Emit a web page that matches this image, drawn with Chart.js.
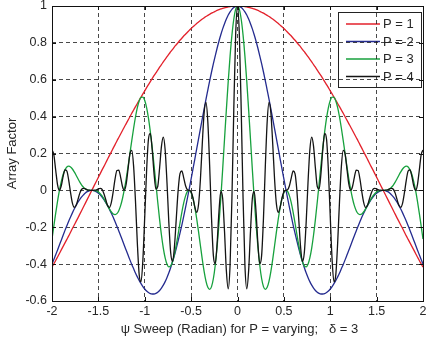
<!DOCTYPE html>
<html>
<head>
<meta charset="utf-8">
<script src="https://cdn.jsdelivr.net/npm/chart.js@4.4.1/dist/chart.umd.min.js"></script>
<style>
html,body{margin:0;padding:0;background:#fff;}
#wrap{width:426px;height:340px;}
</style>
</head>
<body>
<div id="wrap"><canvas id="c" width="426" height="340"></canvas></div>
<script>
// psi sweep (radian)
const psi = [
-2,-1.98,-1.96,-1.94,-1.92,-1.9,-1.88,-1.86,-1.84,-1.82,
-1.8,-1.78,-1.76,-1.74,-1.72,-1.7,-1.68,-1.66,-1.64,-1.62,
-1.6,-1.58,-1.56,-1.54,-1.52,-1.5,-1.48,-1.46,-1.44,-1.42,
-1.4,-1.38,-1.36,-1.34,-1.32,-1.3,-1.28,-1.26,-1.24,-1.22,
-1.2,-1.18,-1.16,-1.14,-1.12,-1.1,-1.08,-1.06,-1.04,-1.02,
-1,-0.98,-0.96,-0.94,-0.92,-0.9,-0.88,-0.86,-0.84,-0.82,
-0.8,-0.78,-0.76,-0.74,-0.72,-0.7,-0.68,-0.66,-0.64,-0.62,
-0.6,-0.58,-0.56,-0.54,-0.52,-0.5,-0.48,-0.46,-0.44,-0.42,
-0.4,-0.38,-0.36,-0.34,-0.32,-0.3,-0.28,-0.26,-0.24,-0.22,
-0.2,-0.18,-0.16,-0.14,-0.12,-0.1,-0.08,-0.06,-0.04,-0.02,
0,
0.02,0.04,0.06,0.08,0.1,0.12,0.14,0.16,0.18,0.2,
0.22,0.24,0.26,0.28,0.3,0.32,0.34,0.36,0.38,0.4,
0.42,0.44,0.46,0.48,0.5,0.52,0.54,0.56,0.58,0.6,
0.62,0.64,0.66,0.68,0.7,0.72,0.74,0.76,0.78,0.8,
0.82,0.84,0.86,0.88,0.9,0.92,0.94,0.96,0.98,1,
1.02,1.04,1.06,1.08,1.1,1.12,1.14,1.16,1.18,1.2,
1.22,1.24,1.26,1.28,1.3,1.32,1.34,1.36,1.38,1.4,
1.42,1.44,1.46,1.48,1.5,1.52,1.54,1.56,1.58,1.6,
1.62,1.64,1.66,1.68,1.7,1.72,1.74,1.76,1.78,1.8,
1.82,1.84,1.86,1.88,1.9,1.92,1.94,1.96,1.98,2
];

const afP1 = [
-.416,-.398,-.38,-.361,-.342,-.323,-.304,-.285,-.266,-.247,
-.227,-.207,-.188,-.168,-.149,-.129,-.109,-.089,-.069,-.049,
-.029,-.009,.011,.031,.051,.071,.091,.111,.13,.15,
.17,.19,.209,.229,.248,.268,.287,.306,.325,.344,
.362,.381,.399,.418,.436,.454,.471,.489,.506,.523,
.54,.557,.574,.59,.606,.622,.637,.652,.668,.682,
.697,.711,.725,.739,.752,.765,.778,.79,.802,.814,
.825,.837,.847,.858,.868,.878,.887,.896,.905,.913,
.921,.929,.936,.943,.949,.955,.961,.966,.971,.976,
.98,.984,.987,.99,.993,.995,.997,.998,.999,1,
1,
1,.999,.998,.997,.995,.993,.99,.987,.984,.98,
.976,.971,.966,.961,.955,.949,.943,.936,.929,.921,
.913,.905,.896,.887,.878,.868,.858,.847,.837,.825,
.814,.802,.79,.778,.765,.752,.739,.725,.711,.697,
.682,.668,.652,.637,.622,.606,.59,.574,.557,.54,
.523,.506,.489,.471,.454,.436,.418,.399,.381,.362,
.344,.325,.306,.287,.268,.248,.229,.209,.19,.17,
.15,.13,.111,.091,.071,.051,.031,.011,-.009,-.029,
-.049,-.069,-.089,-.109,-.129,-.149,-.168,-.188,-.207,-.227,
-.247,-.266,-.285,-.304,-.323,-.342,-.361,-.38,-.398,-.416
];

const afP2 = [
-.4,-.375,-.349,-.323,-.296,-.27,-.243,-.217,-.192,-.167,
-.144,-.122,-.101,-.082,-.064,-.049,-.035,-.024,-.014,-.007,
-.003,0,0,-.003,-.008,-.015,-.024,-.036,-.05,-.066,
-.083,-.103,-.124,-.146,-.17,-.194,-.22,-.246,-.272,-.299,
-.325,-.351,-.377,-.402,-.425,-.448,-.469,-.489,-.506,-.522,
-.535,-.546,-.554,-.56,-.562,-.562,-.559,-.553,-.543,-.53,
-.514,-.495,-.472,-.447,-.418,-.386,-.352,-.314,-.274,-.232,
-.188,-.141,-.092,-.042,.009,.062,.116,.17,.225,.279,
.334,.388,.441,.494,.544,.594,.642,.687,.73,.771,
.809,.844,.876,.904,.929,.951,.968,.982,.992,.998,
1,
.998,.992,.982,.968,.951,.929,.904,.876,.844,.809,
.771,.73,.687,.642,.594,.544,.494,.441,.388,.334,
.279,.225,.17,.116,.062,.009,-.042,-.092,-.141,-.188,
-.232,-.274,-.314,-.352,-.386,-.418,-.447,-.472,-.495,-.514,
-.53,-.543,-.553,-.559,-.562,-.562,-.56,-.554,-.546,-.535,
-.522,-.506,-.489,-.469,-.448,-.425,-.402,-.377,-.351,-.325,
-.299,-.272,-.246,-.22,-.194,-.17,-.146,-.124,-.103,-.083,
-.066,-.05,-.036,-.024,-.015,-.008,-.003,0,0,-.003,
-.007,-.014,-.024,-.035,-.049,-.064,-.082,-.101,-.122,-.144,
-.167,-.192,-.217,-.243,-.27,-.296,-.323,-.349,-.375,-.4
];

const afP3 = [
-.264,-.193,-.123,-.058,0,.048,.086,.111,.127,.131,
.127,.116,.1,.082,.063,.045,.029,.017,.008,.003,
.001,0,0,-.001,-.003,-.009,-.018,-.03,-.046,-.064,
-.083,-.102,-.117,-.128,-.131,-.126,-.11,-.083,-.044,.005,
.063,.129,.199,.27,.337,.398,.449,.485,.505,.506,
.487,.449,.392,.319,.233,.137,.037,-.063,-.157,-.242,
-.313,-.366,-.401,-.415,-.41,-.386,-.347,-.296,-.238,-.177,
-.119,-.068,-.03,-.006,0,-.013,-.044,-.092,-.154,-.224,
-.299,-.373,-.439,-.492,-.526,-.537,-.522,-.478,-.406,-.307,
-.184,-.042,.114,.277,.438,.591,.728,.842,.928,.982,
1,
.982,.928,.842,.728,.591,.438,.277,.114,-.042,-.184,
-.307,-.406,-.478,-.522,-.537,-.526,-.492,-.439,-.373,-.299,
-.224,-.154,-.092,-.044,-.013,0,-.006,-.03,-.068,-.119,
-.177,-.238,-.296,-.347,-.386,-.41,-.415,-.401,-.366,-.313,
-.242,-.157,-.063,.037,.137,.233,.319,.392,.449,.487,
.506,.505,.485,.449,.398,.337,.27,.199,.129,.063,
.005,-.044,-.083,-.11,-.126,-.131,-.128,-.117,-.102,-.083,
-.064,-.046,-.03,-.018,-.009,-.003,-.001,0,0,.001,
.003,.008,.017,.029,.045,.063,.082,.1,.116,.127,
.131,.127,.111,.086,.048,0,-.058,-.123,-.193,-.264
];

const afP4 = [
.219,.193,.109,.03,0,.025,.076,.111,.105,.056,
-.012,-.069,-.092,-.081,-.049,-.015,.006,.011,.008,.003,
.001,0,0,.001,.003,.008,.011,.005,-.018,-.051,
-.083,-.092,-.065,-.007,.062,.108,.11,.071,.021,0,
.035,.116,.198,.217,.13,-.058,-.284,-.457,-.496,-.376,
-.142,.108,.277,.309,.223,.092,.007,.021,.121,.239,
.289,.219,.04,-.177,-.34,-.386,-.306,-.153,0,.091,
.105,.068,.025,.003,0,-.008,-.041,-.091,-.119,-.076,
.058,.25,.42,.477,.372,.131,-.151,-.354,-.398,-.289,
-.117,-.006,-.044,-.222,-.436,-.534,-.405,-.041,.438,.842,
1,
.842,.438,-.041,-.405,-.534,-.436,-.222,-.044,-.006,-.117,
-.289,-.398,-.354,-.151,.131,.372,.477,.42,.25,.058,
-.076,-.119,-.091,-.041,-.008,0,.003,.025,.068,.105,
.091,0,-.153,-.306,-.386,-.34,-.177,.04,.219,.289,
.239,.121,.021,.007,.092,.223,.309,.277,.108,-.142,
-.376,-.496,-.457,-.284,-.058,.13,.217,.198,.116,.035,
0,.021,.071,.11,.108,.062,-.007,-.065,-.092,-.083,
-.051,-.018,.005,.011,.008,.003,.001,0,0,.001,
.003,.008,.011,.006,-.015,-.049,-.081,-.092,-.069,-.012,
.056,.105,.111,.076,.025,0,.03,.109,.193,.219
];

const seriesNames = ['P = 1','P = 2','P = 3','P = 4'];
const seriesColors = ['#e3212b','#242b8f','#17a13d','#141414'];
const seriesValues = [afP1, afP2, afP3, afP4];
const xTicks = [-2,-1.5,-1,-0.5,0,0.5,1,1.5,2];
const yTicks = [-0.6,-0.4,-0.2,0,0.2,0.4,0.6,0.8,1];
const xTitle = 'ψ Sweep (Radian) for P = varying;   δ = 3';
const yTitle = 'Array Factor';

const FONT = '"Liberation Sans", Arial, Helvetica, sans-serif';
const TXT = '#262626';

const frame = {
  id: 'frame',
  beforeDraw(chart) {
    const ctx = chart.ctx;
    ctx.save();
    ctx.fillStyle = '#fff';
    ctx.fillRect(0, 0, chart.width, chart.height);
    // legend box (drawn under the grid, like the reference)
    const lx = 338.5, ly = 12.5, lw = 83, lh = 75;
    ctx.fillStyle = '#fff';
    ctx.fillRect(lx, ly, lw, lh);
    ctx.strokeStyle = '#222';
    ctx.lineWidth = 1;
    ctx.strokeRect(lx, ly, lw, lh);
    const rows = [24, 41.5, 59, 76.5];
    ctx.font = '13px ' + FONT;
    ctx.textBaseline = 'middle';
    ctx.textAlign = 'left';
    seriesNames.forEach((name, i) => {
      ctx.strokeStyle = seriesColors[i];
      ctx.lineWidth = 1.3;
      ctx.beginPath();
      ctx.moveTo(346, rows[i]);
      ctx.lineTo(380, rows[i]);
      ctx.stroke();
      ctx.fillStyle = TXT;
      ctx.fillText(name, 383, rows[i] + 0.5);
    });
    ctx.restore();
  },
  afterDraw(chart) {
    const ctx = chart.ctx;
    const a = chart.chartArea;
    const xs = chart.scales.x, ys = chart.scales.y;
    ctx.save();
    ctx.strokeStyle = '#111';
    ctx.lineWidth = 1;
    ctx.setLineDash([]);
    ctx.strokeRect(Math.round(a.left) + 0.5, Math.round(a.top) + 0.5,
      Math.round(a.right) - Math.round(a.left), Math.round(a.bottom) - Math.round(a.top));
    ctx.beginPath();
    xTicks.forEach(v => {
      const px = Math.round(xs.getPixelForValue(v)) + 0.5;
      ctx.moveTo(px, a.bottom); ctx.lineTo(px, a.bottom - 4);
      ctx.moveTo(px, a.top); ctx.lineTo(px, a.top + 4);
    });
    yTicks.forEach(v => {
      const py = Math.round(ys.getPixelForValue(v)) + 0.5;
      ctx.moveTo(a.left, py); ctx.lineTo(a.left + 4, py);
      ctx.moveTo(a.right, py); ctx.lineTo(a.right - 4, py);
    });
    ctx.stroke();
    ctx.fillStyle = TXT;
    ctx.font = '13px ' + FONT;
    ctx.textAlign = 'center';
    ctx.textBaseline = 'middle';
    ctx.fillText(xTitle, (a.left + a.right) / 2 + 2, 329);
    ctx.translate(12, (a.top + a.bottom) / 2);
    ctx.rotate(-Math.PI / 2);
    ctx.fillText(yTitle, 0, 0);
    ctx.restore();
  }
};

const datasets = seriesValues.map((vals, i) => ({
  label: seriesNames[i],
  data: psi.map((x, j) => ({ x: x, y: vals[j] })),
  borderColor: seriesColors[i],
  backgroundColor: seriesColors[i],
  borderWidth: 1.3,
  pointRadius: 0,
  fill: false,
  cubicInterpolationMode: 'monotone',
  order: 4 - i
}));

new Chart(document.getElementById('c'), {
  type: 'line',
  data: { datasets },
  plugins: [frame],
  options: {
    responsive: false,
    devicePixelRatio: 1,
    animation: false,
    events: [],
    layout: { autoPadding: false, padding: { left: 0, right: 3, top: 6, bottom: 0 } },
    plugins: { legend: { display: false }, tooltip: { enabled: false } },
    scales: {
      x: {
        type: 'linear',
        min: -2, max: 2,
        afterBuildTicks: s => { s.ticks = xTicks.map(v => ({ value: v })); },
        afterFit: s => { s.height = 39; s.paddingLeft = 0; s.paddingRight = 0; s.paddingTop = 0; s.paddingBottom = 0; },
        grid: { color: '#1a1a1a', lineWidth: 0.8, drawTicks: false },
        border: { display: false, dash: [4, 3] },
        ticks: {
          padding: 3,
          color: TXT,
          font: { family: FONT, size: 12.5 },
          maxRotation: 0,
          autoSkip: false,
          callback: v => String(Number(v.toFixed(1)))
        }
      },
      y: {
        type: 'linear',
        min: -0.6, max: 1,
        afterBuildTicks: s => { s.ticks = yTicks.map(v => ({ value: v })); },
        afterFit: s => { s.width = 52; s.paddingLeft = 0; s.paddingRight = 0; s.paddingTop = 0; s.paddingBottom = 0; },
        grid: { color: '#1a1a1a', lineWidth: 0.8, drawTicks: false },
        border: { display: false, dash: [4, 3] },
        ticks: {
          padding: 5,
          color: TXT,
          font: { family: FONT, size: 12.5 },
          autoSkip: false,
          callback: v => String(Number(v.toFixed(1)))
        }
      }
    }
  }
});
</script>
</body>
</html>
